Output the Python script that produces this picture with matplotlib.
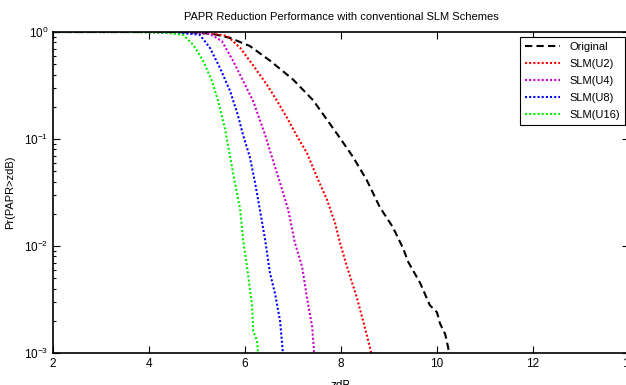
import matplotlib
matplotlib.use("Agg")
import matplotlib.pyplot as plt
from matplotlib.ticker import LogLocator, NullFormatter

plt.rcParams['font.family'] = ['Liberation Sans', 'DejaVu Sans']

# ---- data ----
orig_x = [2, 4.6, 4.85, 5.33, 5.69, 6.10, 6.52, 7.00, 7.42, 7.98, 8.25, 8.54, 8.81, 9.08, 9.29, 9.40, 9.65, 9.85, 10.00, 10.06, 10.17, 10.23, 10.25]
orig_y = [1, 1, 0.995, 0.96, 0.88, 0.74, 0.54, 0.36, 0.23, 0.102, 0.068, 0.041, 0.023, 0.015, 0.0096, 0.0071, 0.0045, 0.0028, 0.0024, 0.0019, 0.0015, 0.00114, 0.001]

u2_x = [2, 4.3, 4.6, 5.20, 5.63, 5.90, 6.21, 6.46, 6.67, 6.875, 7.08, 7.29, 7.50, 7.71, 7.875, 7.98, 8.125, 8.33, 8.46, 8.60, 8.63]
u2_y = [1, 1, 0.995, 0.98, 0.92, 0.71, 0.46, 0.32, 0.226, 0.158, 0.107, 0.074, 0.044, 0.027, 0.0164, 0.0107, 0.0064, 0.0033, 0.0020, 0.00114, 0.001]

u4_x = [2, 4.0, 4.3, 4.9, 5.27, 5.52, 5.75, 5.96, 6.17, 6.42, 6.56, 6.73, 6.90, 7.04, 7.19, 7.29, 7.40, 7.44]
u4_y = [1, 1, 0.995, 0.985, 0.96, 0.82, 0.54, 0.35, 0.226, 0.109, 0.068, 0.039, 0.0218, 0.0107, 0.0064, 0.0033, 0.00175, 0.001]

u8_x = [2, 3.8, 4.1, 4.7, 5.06, 5.27, 5.48, 5.69, 5.85, 5.96, 6.10, 6.21, 6.31, 6.42, 6.52, 6.625, 6.73, 6.79]
u8_y = [1, 1, 0.995, 0.98, 0.94, 0.71, 0.46, 0.28, 0.168, 0.109, 0.068, 0.039, 0.0218, 0.0114, 0.0056, 0.0036, 0.0020, 0.001]

u16_x = [2, 3.6, 3.9, 4.4, 4.71, 4.92, 5.125, 5.31, 5.44, 5.58, 5.69, 5.79, 5.90, 5.96, 6.06, 6.15, 6.17, 6.25, 6.27]
u16_y = [1, 1, 0.995, 0.98, 0.94, 0.76, 0.54, 0.35, 0.226, 0.127, 0.068, 0.039, 0.0218, 0.0114, 0.0056, 0.0027, 0.0016, 0.0013, 0.001]

x_ticks = [2, 4, 6, 8, 10, 12, 14]
series_labels = ['Original', 'SLM(U2)', 'SLM(U4)', 'SLM(U8)', 'SLM(U16)']

# ---- figure ----
fig = plt.figure(figsize=(6.26, 3.85), dpi=100)
ax = fig.add_axes([53/626, 1-353/385, (629-53)/626, 321/385])

ax.semilogy(orig_x, orig_y, color='black', linestyle=(0, (3.5, 2)), linewidth=1.5, label=series_labels[0])
ax.semilogy(u2_x, u2_y, color='#ff0000', linestyle=(0, (1, 1)), linewidth=1.5, label=series_labels[1])
ax.semilogy(u4_x, u4_y, color='#cc00cc', linestyle=(0, (1, 1)), linewidth=1.5, label=series_labels[2])
ax.semilogy(u8_x, u8_y, color='#0000ff', linestyle=(0, (1, 1)), linewidth=1.5, label=series_labels[3])
ax.semilogy(u16_x, u16_y, color='#00ee00', linestyle=(0, (1, 1)), linewidth=1.5, label=series_labels[4])

ax.set_xlim(2, 14)
ax.set_ylim(1e-3, 1)
ax.set_xticks(x_ticks)
ax.set_xticklabels([str(t) for t in x_ticks])
ax.yaxis.set_major_locator(LogLocator(base=10, numticks=10))
ax.yaxis.set_minor_locator(LogLocator(base=10, subs=range(2, 10), numticks=10))
ax.yaxis.set_minor_formatter(NullFormatter())
ax.tick_params(which='both', direction='in', top=True, right=True, labelsize=8.5, width=0.8)
ax.tick_params(which='major', length=5)
ax.tick_params(which='minor', length=2.5)
for s in ax.spines.values():
    s.set_linewidth(1.2)

ax.set_title('PAPR Reduction Performance with conventional SLM Schemes', fontsize=8, pad=9)
ax.set_xlabel('zdB', fontsize=8.5, labelpad=7)
ax.set_ylabel('Pr(PAPR>zdB)', fontsize=8, labelpad=6)

leg = ax.legend(loc='upper right', fontsize=8, fancybox=False, edgecolor='black',
                framealpha=1, handlelength=3.2, borderaxespad=0.0, labelspacing=0.62,
                borderpad=0.45, bbox_to_anchor=((625-53)/576, (353-37)/321))
leg.get_frame().set_linewidth(0.8)

fig.savefig('out.png', dpi=100)
